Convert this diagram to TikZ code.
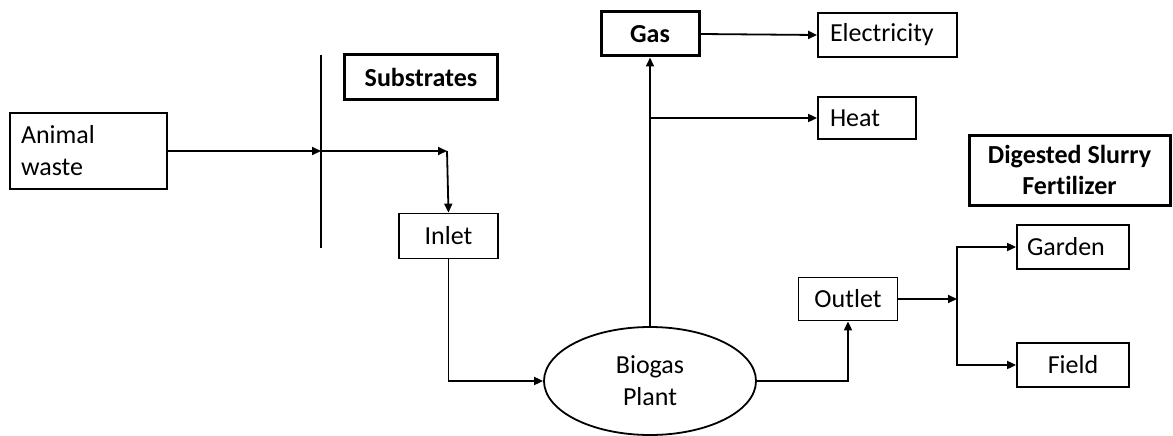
\documentclass[tikz,border=0pt]{standalone}
\usepackage{fontspec}
\setmainfont[Ligatures=NoCommon]{Carlito}
\usetikzlibrary{arrows.meta,shapes.geometric}

\tikzset{
  box/.style={draw, line width=1.8pt, inner sep=0pt, align=center, font=\fontsize{26}{32}\selectfont},
  leftbox/.style={box, align=left, inner xsep=12pt, text width=#1},
  headbox/.style={box, line width=3pt, font=\fontsize{26}{31}\selectfont\bfseries},
  arr/.style={line width=1.8pt, -{Triangle[length=9pt,width=8pt]}}
}

\begin{document}
\begin{tikzpicture}[x=1pt, y=-1pt]
	\useasboundingbox (0,0) rectangle (1173,436);
	% boxes
	\node[leftbox=135pt, inner xsep=11pt, minimum height=76pt] (waste) at (88.5,151) {Animal\\waste};
	\node[headbox, minimum width=153pt, minimum height=44pt] (subst) at (421,77) {Substrates};
	\node[box, minimum width=99pt, minimum height=45pt] (inlet) at (448.5,236) {Inlet};
	\node[box, ellipse, minimum width=212pt, minimum height=108pt] (plant) at (650,381) {Biogas\\Plant};
	\node[headbox, minimum width=98pt, minimum height=44pt] (gas) at (650,34) {Gas};
	\node[leftbox=115pt, minimum height=44pt] (elec) at (887.5,35) {Electricity};
	\node[leftbox=74pt, minimum height=42pt] (heat) at (867,118) {Heat};
	\node[headbox, minimum width=201pt, minimum height=70pt] (digest) at (1069.5,170) {Digested Slurry\\Fertilizer};
	\node[box, minimum width=99pt, minimum height=43pt] (outlet) at (848,299) {Outlet};
	\node[leftbox=88pt, inner xsep=10pt, minimum height=44pt, text width=92pt] (garden) at (1073,247) {Garden};
	\node[box, minimum width=112pt, minimum height=44pt] (field) at (1073,365) {Field};
	% connectors
	\coordinate (bartop) at (321,55);
	\coordinate (barbot) at (321,248);
	\coordinate (bend) at (447,151);
	\coordinate (split) at (957,299);
	\draw[line width=1.8pt] (bartop) -- (barbot);
	\draw[arr] (waste.east) -- (waste.east -| bartop);
	\draw[arr] (waste.east -| bartop) -- (bend);
	\draw[arr] (bend) -- (inlet.north);
	\draw[arr] (inlet.south) |- (plant.west);
	\draw[arr] (plant.north) -- (gas.south);
	\draw[arr] (plant.north |- heat.west) -- (heat.west);
	\draw[arr] (gas.east) -- (elec.west);
	\draw[arr] (plant.east) -| (outlet.south);
	\draw[arr] (outlet.east) -- (split);
	\draw[arr] (split) |- (garden.west);
	\draw[arr] (split) |- (field.west);
\end{tikzpicture}
\end{document}
